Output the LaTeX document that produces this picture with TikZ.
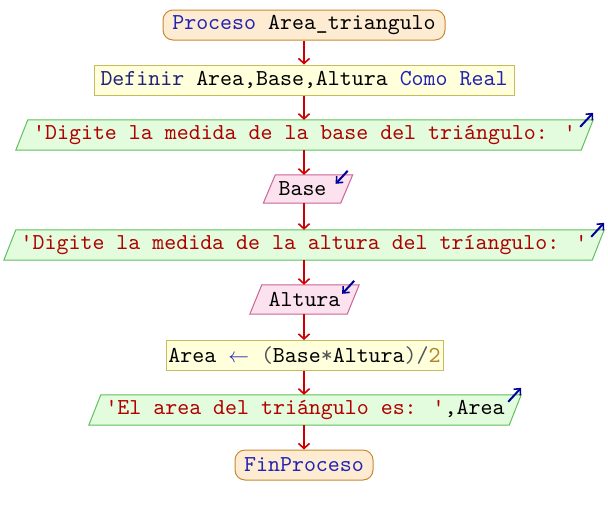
\documentclass[tikz,border=0pt]{standalone}
\usepackage{fontspec}
\newfontfamily\mono{lmmono10-regular}[Extension=.otf]
\usetikzlibrary{arrows.meta,backgrounds,calc}
\definecolor{termfill}{HTML}{FDEBD2}
\definecolor{termdraw}{HTML}{C88A30}
\definecolor{procfill}{HTML}{FFFFDC}
\definecolor{procdraw}{HTML}{C8BC5A}
\definecolor{outfill}{HTML}{E4FCDE}
\definecolor{outdraw}{HTML}{5EC05E}
\definecolor{infill}{HTML}{FCE2EE}
\definecolor{indraw}{HTML}{C86496}
\definecolor{flowred}{HTML}{CC0000}
\definecolor{iconblue}{HTML}{00009A}
\definecolor{kwblue}{HTML}{2222B4}
\definecolor{kwdark}{HTML}{22227A}
\definecolor{strred}{HTML}{B00000}
\definecolor{numcol}{HTML}{B08428}
\definecolor{opgray}{HTML}{555555}
\tikzset{
  base/.style={inner sep=0pt, font=\mono\fontsize{22.8}{26}\selectfont, text=black},
  termbox/.style={base, draw=termdraw, fill=termfill, line width=1pt, rounded corners=10pt, minimum height=30pt},
  procbox/.style={base, draw=procdraw, fill=procfill, line width=1pt, minimum height=30pt},
  iobox/.style={base, minimum height=30pt},
  outshape/.style={draw=outdraw, fill=outfill, line width=1pt},
  inshape/.style={draw=indraw, fill=infill, line width=1pt},
  flow/.style={draw=flowred, line width=2pt, -{Straight Barb[length=5pt,width=11pt,line width=1.6pt]}},
  icon/.style={draw=iconblue, line width=2pt, -{Straight Barb[length=5pt,width=9pt,line width=1.6pt]}}
}
\begin{document}
\begin{tikzpicture}[x=1pt,y=-1pt]
\useasboundingbox (0,0) rectangle (608,515);
\coordinate (X) at (304,0);

\node[termbox, minimum width=282pt] (start) at (304,25) {\textcolor{kwblue}{Proceso} Area\_triangulo};
\node[procbox, minimum width=420pt] (def) at (304,80) {\textcolor{kwdark}{Definir} Area,Base,Altura \textcolor{kwblue}{Como Real}};
\node[iobox, minimum width=565pt] (o1) at (304.5,135) {\textcolor{strred}{'Digite la medida de la base del triángulo: '}};
\node[iobox, minimum width=77pt, minimum height=28pt] (i1) at (308,189) {Base\hspace*{11pt}};
\node[iobox, minimum width=588pt] (o2) at (304,245) {\textcolor{strred}{'Digite la medida de la altura del tríangulo: '}};
\node[iobox, minimum width=97pt, minimum height=29pt] (i2) at (304.5,299.5) {Altura};
\node[procbox, minimum width=277pt] (asg) at (304.5,355.5) {Area \textcolor{kwblue}{$\leftarrow$} \textcolor{opgray}{(}Base\textcolor{opgray}{*}Altura\textcolor{opgray}{)/}\textcolor{numcol}{2}};
\node[iobox, minimum width=420pt] (o3) at (305,410) {\textcolor{strred}{'El area del triángulo es: '},Area};
\node[termbox, minimum width=138pt] (end) at (304,465) {\textcolor{kwblue}{FinProceso}};

\begin{scope}[on background layer]
  \foreach \n/\s in {o1/outshape,i1/inshape,o2/outshape,i2/inshape,o3/outshape}
    \draw[\s] ([xshift=-6pt]\n.south west) -- ([xshift=6pt]\n.north west) -- ([xshift=6pt]\n.north east) -- ([xshift=-6pt]\n.south east) -- cycle;
\end{scope}

\foreach \a/\b in {start/def,def/o1,o1/i1,i1/o2,o2/i2,i2/asg,asg/o3,o3/end}
  \draw[flow] (\a.south -| X) -- (\b.north -| X);

\foreach \n in {o1,o2,o3}
  \draw[icon] ($(\n.north east)+(-7,7)$) -- ($(\n.north east)+(6,-7)$);
\foreach \n in {i1,i2}
  \draw[icon] ($(\n.north east)+(1,-4)$) -- ($(\n.north east)+(-11,9)$);
\end{tikzpicture}
\end{document}
